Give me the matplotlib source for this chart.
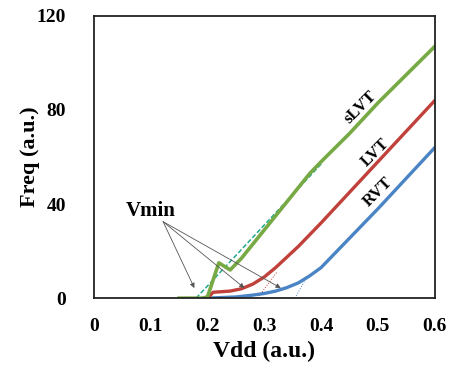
import matplotlib.pyplot as plt

# Freq vs Vdd for three Vt flavours
slvt_x = [0.15, 0.17, 0.19, 0.20, 0.22, 0.24, 0.26, 0.28, 0.30, 0.32, 0.34, 0.36, 0.38, 0.40, 0.45, 0.50, 0.55, 0.60]
slvt_y = [0, 0, 0, 0.5, 15, 12, 17, 23, 29, 35, 41, 47, 53, 58, 70, 83, 95, 107]

lvt_x = [0.20, 0.21, 0.24, 0.26, 0.28, 0.30, 0.32, 0.34, 0.36, 0.38, 0.40, 0.45, 0.50, 0.55, 0.60]
lvt_y = [0, 2.5, 3, 4, 6, 9, 13, 17.5, 22, 27, 32, 45, 58, 71, 84]

rvt_x = [0.20, 0.25, 0.28, 0.30, 0.32, 0.34, 0.36, 0.38, 0.40, 0.45, 0.50, 0.55, 0.60]
rvt_y = [0, 0.5, 1.3, 2, 3, 4.5, 6.5, 9.5, 13, 25.5, 38, 51, 64]

# extrapolation lines for Vmin
tan_slvt_x = [0.18, 0.40]
tan_slvt_y = [0, 57]
tan_lvt_x = [0.288, 0.322]
tan_lvt_y = [0, 11]
tan_rvt_x = [0.354, 0.375]
tan_rvt_y = [0, 9]

vmin_x = [0.177, 0.265, 0.329]
vmin_y = [4.3, 4.3, 4.3]

green = "#77a944"
red = "#c0413b"
blue = "#4a84c4"

plt.rcParams["font.family"] = "Liberation Serif"
plt.rcParams["font.weight"] = "bold"

fig = plt.figure(figsize=(4.69, 3.69), dpi=100)
ax = fig.add_axes([0.2, 0.192, 0.727, 0.765])

ax.plot(tan_slvt_x, tan_slvt_y, color="#1fa88a", lw=1.1, ls=(0, (3, 1.5)))
ax.plot(tan_lvt_x, tan_lvt_y, color=red, lw=0.7, ls=":")
ax.plot(tan_rvt_x, tan_rvt_y, color=blue, lw=0.7, ls=":")

ax.plot(rvt_x, rvt_y, color=blue, lw=2.4)
ax.plot(lvt_x, lvt_y, color=red, lw=2.4)
ax.plot(slvt_x, slvt_y, color=green, lw=2.6)

for vx, vy in zip(vmin_x, vmin_y):
    ax.annotate("", xy=(vx, vy), xytext=(0.122, 32.5),
                arrowprops=dict(arrowstyle="-|>", color="#555555", lw=0.6,
                                mutation_scale=7, shrinkA=0, shrinkB=0))
ax.text(0.10, 37, "Vmin", fontsize=15, fontweight="bold", ha="center", va="center")

ax.text(0.469, 81, "sLVT", fontsize=12, fontweight="bold", rotation=45, ha="center", va="center")
ax.text(0.496, 62, "LVT", fontsize=12, fontweight="bold", rotation=45, ha="center", va="center")
ax.text(0.50, 45, "RVT", fontsize=12, fontweight="bold", rotation=45, ha="center", va="center")

ax.set_xlim(0, 0.6)
ax.set_ylim(0, 120)
ax.set_xticks([0, 0.1, 0.2, 0.3, 0.4, 0.5, 0.6])
ax.set_xticklabels(["0", "0.1", "0.2", "0.3", "0.4", "0.5", "0.6"])
ax.set_yticks([0, 40, 80, 120])
ax.tick_params(length=0, labelsize=14)
ax.tick_params(axis="x", pad=14)
ax.tick_params(axis="y", pad=20)
for lab in ax.get_xticklabels() + ax.get_yticklabels():
    lab.set_fontweight("bold")

ax.set_xlabel("Vdd (a.u.)", fontsize=17, fontweight="bold")
ax.set_ylabel("Freq (a.u.)", fontsize=16, fontweight="bold")
ax.xaxis.set_label_coords(0.5, -0.19)
ax.yaxis.set_label_coords(-0.188, 0.5)
ax.xaxis.label.set_va("center")
ax.yaxis.label.set_va("center")

for s in ax.spines.values():
    s.set_color("#222222")
    s.set_linewidth(1.3)

fig.savefig("out.png", dpi=100)
